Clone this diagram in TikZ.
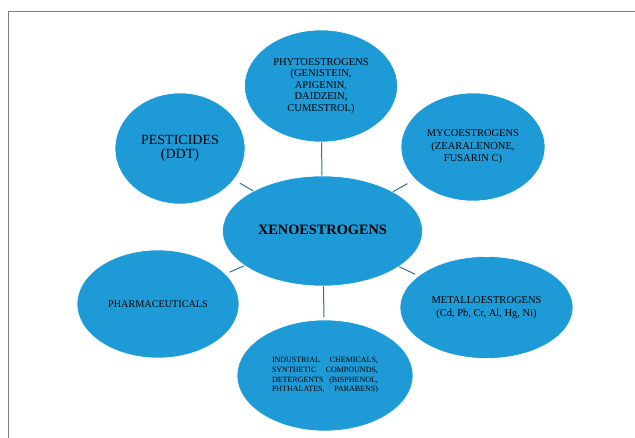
\documentclass[tikz,border=0pt]{standalone}
\usepackage{fontspec}
\setmainfont{Liberation Serif}
\usetikzlibrary{shapes.geometric}
\definecolor{bubble}{RGB}{30,155,215}
\definecolor{conncol}{RGB}{50,112,150}
\definecolor{framecol}{RGB}{128,128,128}
\tikzset{
  bub/.style={ellipse, fill=bubble, draw=white, line width=0.6pt, inner sep=0pt, outer sep=0pt, align=center, text=black},
  conn/.style={draw=conncol, line width=1pt, shorten <=0.5pt},
}
\begin{document}
\begin{tikzpicture}[x=1pt,y=1pt]
\useasboundingbox (0,0) rectangle (635,438);
% frame
\coordinate (fbl) at (8,0);
\coordinate (ftr) at (635,426);
\draw[framecol, line width=1pt] (fbl) |- (ftr);
% nodes
\node[bub, minimum width=200, minimum height=110, font=\fontsize{14.3}{16}\selectfont\bfseries] (xeno) at (322.5,207) {\raisebox{1.5pt}{XENOESTROGENS}};
\node[bub, minimum width=153, minimum height=112, font=\fontsize{10.5}{11.5}\selectfont] (phyto) at (321,352) {PHYTOESTROGENS\\(GENISTEIN,\\APIGENIN,\\DAIDZEIN,\\CUMESTROL)};
\node[bub, minimum width=130, minimum height=111, font=\fontsize{14}{13.5}\selectfont] (pest) at (180,289.5) {\raisebox{3pt}{\begin{tabular}{@{}c@{}}PESTICIDES\\(DDT)\end{tabular}}};
\node[bub, minimum width=144, minimum height=108, font=\fontsize{10.5}{12.5}\selectfont] (myco) at (473,291) {MYCOESTROGENS\\(ZEARALENONE,\\FUSARIN C)};
\node[bub, minimum width=162, minimum height=108, font=\fontsize{10.2}{12}\selectfont] (pharma) at (158,134) {PHARMACEUTICALS};
\node[bub, minimum width=173, minimum height=102, font=\fontsize{10.5}{13.5}\selectfont] (metal) at (486.5,130.5) {\raisebox{6pt}{\begin{tabular}{@{}c@{}}METALLOESTROGENS\\(Cd, Pb, Cr, Al, Hg, Ni)\end{tabular}}};
\node[bub, minimum width=176, minimum height=111, font=\fontsize{8}{9.6}\selectfont] (indus) at (325,62.5) {\raisebox{3pt}{\parbox{106pt}{\parfillskip=0pt INDUSTRIAL CHEMICALS,\linebreak SYNTHETIC COMPOUNDS,\linebreak DETERGENTS (BISPHENOL,\linebreak PHTHALATES, PARABENS)}}};
% connectors
\draw[conn, shorten >=0.5pt] (xeno) -- (phyto);
\draw[conn, shorten >=7pt] (xeno) -- (pest);
\draw[conn, shorten >=9pt] (xeno) -- (myco);
\draw[conn, shorten >=4.5pt] (xeno) -- (pharma);
\draw[conn, shorten >=4pt] (xeno) -- (metal);
\draw[conn, shorten >=3pt] (xeno) -- (indus);
\end{tikzpicture}
\end{document}
